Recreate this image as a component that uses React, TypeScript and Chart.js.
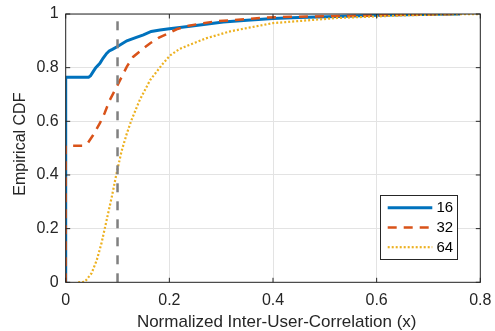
import React, { useEffect, useRef } from "react";
import { Chart, registerables } from "chart.js";

Chart.register(...registerables);

// ---- data ----
const seriesLabels = ["16", "32", "64"];

const xs16 = [0, 0, 0.044, 0.048, 0.053, 0.058, 0.066, 0.072, 0.079, 0.084, 0.09, 0.1, 0.118, 0.135, 0.15, 0.165, 0.182, 0.2, 0.24, 0.27, 0.304, 0.35, 0.4, 0.45, 0.523, 0.6, 0.651, 0.72, 0.761];
const ys16 = [0, 0.764, 0.764, 0.77, 0.785, 0.8, 0.816, 0.835, 0.853, 0.862, 0.868, 0.879, 0.9, 0.912, 0.922, 0.935, 0.94, 0.945, 0.954, 0.962, 0.97, 0.977, 0.983, 0.987, 0.991, 0.995, 0.997, 0.999, 1.0];

const xs32 = [0, 0, 0.033, 0.043, 0.053, 0.066, 0.075, 0.085, 0.1, 0.118, 0.13, 0.147, 0.163, 0.18, 0.195, 0.214, 0.235, 0.259, 0.291, 0.356, 0.388, 0.45, 0.55, 0.65, 0.76];
const ys32 = [0, 0.509, 0.509, 0.52, 0.549, 0.593, 0.63, 0.679, 0.735, 0.804, 0.84, 0.867, 0.891, 0.912, 0.925, 0.943, 0.955, 0.964, 0.973, 0.982, 0.987, 0.99, 0.993, 0.997, 1.0];

const xs64 = [0.024, 0.037, 0.05, 0.06, 0.069, 0.079, 0.089, 0.098, 0.108, 0.118, 0.127, 0.143, 0.163, 0.188, 0.201, 0.22, 0.24, 0.272, 0.317, 0.356, 0.4, 0.458, 0.523, 0.6, 0.651, 0.72, 0.8];
const ys64 = [0, 0.002, 0.034, 0.083, 0.145, 0.232, 0.319, 0.405, 0.49, 0.555, 0.605, 0.68, 0.754, 0.816, 0.845, 0.87, 0.886, 0.91, 0.935, 0.95, 0.966, 0.975, 0.985, 0.991, 0.995, 0.998, 1.0];

const thresholdX = [0.1, 0.1];
const thresholdY = [0, 1];

const xTicks = [0, 0.2, 0.4, 0.6, 0.8];
const yTicks = [0, 0.2, 0.4, 0.6, 0.8, 1];

const xTitle = "Normalized Inter-User-Correlation (x)";
const yTitle = "Empirical CDF";

// ---- styles ----
const FONT = "'Liberation Sans', Arial, Helvetica, sans-serif";
const AXIS_COLOR = "#262626";
const GRID_COLOR = "#e3e3e3";
const COLORS = ["#0072BD", "#D95319", "#EDB120"];
const WIDTHS = [3, 2.5, 2.2];
const DASHES: number[][] = [[], [9, 7], [2, 2]];

function pts(xs: number[], ys: number[]) {
  return xs.map((x, i) => ({ x, y: ys[i] }));
}

const boxPlugin = {
  id: "matlabBox",
  afterDatasetsDraw(chart: any) {
    const { ctx, chartArea: a, scales } = chart;
    ctx.save();
    ctx.strokeStyle = AXIS_COLOR;
    ctx.lineWidth = 1;
    ctx.setLineDash([]);
    ctx.strokeRect(a.left, a.top, a.right - a.left, a.bottom - a.top);
    const tl = 4.5;
    ctx.beginPath();
    xTicks.forEach((v) => {
      const px = scales.x.getPixelForValue(v);
      ctx.moveTo(px, a.bottom);
      ctx.lineTo(px, a.bottom - tl);
      ctx.moveTo(px, a.top);
      ctx.lineTo(px, a.top + tl);
    });
    yTicks.forEach((v) => {
      const py = scales.y.getPixelForValue(v);
      ctx.moveTo(a.left, py);
      ctx.lineTo(a.left + tl, py);
      ctx.moveTo(a.right, py);
      ctx.lineTo(a.right - tl, py);
    });
    ctx.stroke();
    ctx.restore();
  },
  afterDraw(chart: any) {
    const { ctx, chartArea: a } = chart;
    ctx.save();
    // axis titles
    ctx.fillStyle = AXIS_COLOR;
    ctx.textAlign = "center";
    ctx.textBaseline = "middle";
    ctx.font = `17px ${FONT}`;
    ctx.fillText(xTitle, (a.left + a.right) / 2 + 3.7, 322);
    ctx.save();
    ctx.translate(21, (a.top + a.bottom) / 2 - 4);
    ctx.rotate(-Math.PI / 2);
    ctx.font = `16px ${FONT}`;
    ctx.fillText(yTitle, 0, 0);
    ctx.restore();

    // legend
    const bx = 380.5, by = 195.5, bw = 77, bh = 64;
    ctx.fillStyle = "#ffffff";
    ctx.fillRect(bx, by, bw, bh);
    ctx.strokeStyle = AXIS_COLOR;
    ctx.lineWidth = 1;
    ctx.setLineDash([]);
    ctx.strokeRect(bx, by, bw, bh);
    const rows = [207.7, 227.5, 247.2];
    seriesLabels.forEach((lab, i) => {
      const y = rows[i];
      ctx.beginPath();
      ctx.strokeStyle = COLORS[i];
      ctx.lineWidth = WIDTHS[i];
      ctx.setLineDash(DASHES[i]);
      ctx.moveTo(387.7, y);
      ctx.lineTo(432.3, y);
      ctx.stroke();
      ctx.setLineDash([]);
      ctx.fillStyle = "#000000";
      ctx.font = `15px ${FONT}`;
      ctx.textAlign = "left";
      ctx.textBaseline = "middle";
      ctx.fillText(lab, 436.5, y + 0.5);
    });
    ctx.restore();
  },
};

export default function App() {
  const ref = useRef<HTMLCanvasElement | null>(null);

  useEffect(() => {
    if (!ref.current) return;
    const series = [pts(xs16, ys16), pts(xs32, ys32), pts(xs64, ys64)];
    const datasets: any[] = series.map((d, i) => ({
      label: seriesLabels[i],
      data: d,
      borderColor: COLORS[i],
      borderWidth: WIDTHS[i],
      borderDash: DASHES[i],
      pointRadius: 0,
      tension: 0,
      fill: false,
      order: 3 - i,
    }));
    datasets.push({
      label: "threshold",
      data: pts(thresholdX, thresholdY),
      borderColor: "#808080",
      borderWidth: 2.5,
      borderDash: [9, 9],
      pointRadius: 0,
      fill: false,
      order: 0,
    });

    const chart = new Chart(ref.current, {
      type: "line",
      data: { datasets },
      options: {
        animation: false,
        responsive: false,
        devicePixelRatio: 1,
        layout: { padding: { left: 0, right: 14.7, top: 14, bottom: 0 } },
        plugins: { legend: { display: false }, tooltip: { enabled: false } },
        scales: {
          x: {
            type: "linear",
            min: 0,
            max: 0.8,
            afterFit: (s: any) => { s.height = 48.7; s.paddingLeft = 0; s.paddingRight = 0; },
            afterBuildTicks: (s: any) => { s.ticks = xTicks.map((v) => ({ value: v })); },
            ticks: {
              color: AXIS_COLOR,
              font: { family: FONT, size: 16 },
              padding: 9,
              maxRotation: 0,
              callback: (v: any) => String(Math.round(Number(v) * 10) / 10),
            },
            grid: { color: GRID_COLOR, drawTicks: false, lineWidth: 1 },
            border: { display: false },
            title: { display: false },
          },
          y: {
            type: "linear",
            min: 0,
            max: 1,
            afterFit: (s: any) => { s.width = 65.7; s.paddingTop = 0; s.paddingBottom = 0; },
            afterBuildTicks: (s: any) => { s.ticks = yTicks.map((v) => ({ value: v })); },
            ticks: {
              color: AXIS_COLOR,
              font: { family: FONT, size: 16 },
              padding: 7,
              callback: (v: any) => String(Math.round(Number(v) * 10) / 10),
            },
            grid: { color: GRID_COLOR, drawTicks: false, lineWidth: 1 },
            border: { display: false },
            title: { display: false },
          },
        },
      },
      plugins: [boxPlugin],
    });
    return () => chart.destroy();
  }, []);

  return (
    <div style={{ position: "fixed", left: 0, top: 0, width: 495, height: 331, background: "#fff" }}>
      <canvas ref={ref} width={495} height={331} style={{ width: 495, height: 331, display: "block" }} />
    </div>
  );
}
